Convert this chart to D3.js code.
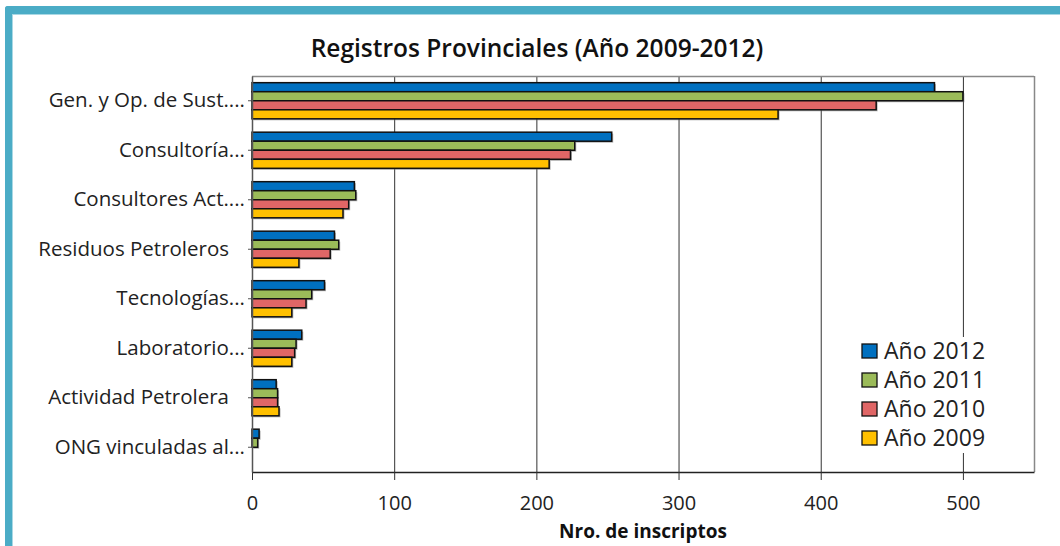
<!DOCTYPE html>
<html><head><meta charset="utf-8">
<script src="https://cdn.jsdelivr.net/npm/d3@7"></script>
<style>
html,body{margin:0;padding:0;background:#fff;}
text{font-family:"Open Sans","Noto Sans",sans-serif;}
.ylab{white-space:pre;}
</style></head>
<body><svg id="c" width="1060" height="546"></svg>
<script>
const categories = ["Gen. y Op. de Sust....","Consultoría...","Consultores Act....","Residuos Petroleros   ","Tecnologías...","Laboratorio...","Actividad Petrolera   ","ONG vinculadas al..."];
const seriesNames = ["Año 2012","Año 2011","Año 2010","Año 2009"];
const v2012 = [480,253,72,58,51,35,17,5];
const v2011 = [500,227,73,61,42,31,18,4];
const v2010 = [439,224,68,55,38,30,18,0];
const v2009 = [370,209,64,33,28,28,19,0];
const xTicks = [0,100,200,300,400,500];
const colors = ["#0070c0","#9bbb59","#e06666","#ffc000"];
const seriesValues = [v2012,v2011,v2010,v2009];

const svg = d3.select("#c");
// frame border
svg.append("rect").attr("x",5).attr("y",6).attr("width",1060).attr("height",8).attr("rx",3).attr("fill","#4bacc6");
svg.append("rect").attr("x",5).attr("y",6).attr("width",7).attr("height",546).attr("rx",3).attr("fill","#4bacc6");
svg.append("line").attr("x1",12).attr("x2",1060).attr("y1",14.5).attr("y2",14.5).attr("stroke","#a9d8e4").attr("stroke-width",1);
svg.append("line").attr("x1",12.5).attr("x2",12.5).attr("y1",15).attr("y2",546).attr("stroke","#a9d8e4").attr("stroke-width",1);

const L=252,R=1034,T=76,B=472;
const x = d3.scaleLinear().domain([0,550]).range([L,R]);
const y = d3.scaleBand().domain(categories).range([T,B]).paddingInner(0.27).paddingOuter(0.135);
const ys = d3.scaleBand().domain(seriesNames).range([0,y.bandwidth()]);

// title
svg.append("text").attr("x",537).attr("y",57).attr("text-anchor","middle")
  .attr("font-size",24.5).attr("font-weight",600).attr("fill","#111").text("Registros Provinciales (Año 2009-2012)");

// gridlines
svg.append("g").selectAll("line").data(xTicks.filter(d=>d>0)).join("line")
  .attr("x1",d=>x(d)+0.5).attr("x2",d=>x(d)+0.5).attr("y1",T).attr("y2",B)
  .attr("stroke","#333").attr("stroke-width",1);
// plot frame top/right
svg.append("line").attr("x1",L).attr("x2",R).attr("y1",T+0.5).attr("y2",T+0.5).attr("stroke","#888").attr("stroke-width",1.5);
svg.append("line").attr("x1",R+0.5).attr("x2",R+0.5).attr("y1",T).attr("y2",B).attr("stroke","#888").attr("stroke-width",1.5);

// bars
const gBars = svg.append("g");
seriesValues.forEach((vals,si)=>{
  const g = gBars.append("g");
  const data = categories.map((c,i)=>({c,v:vals[i]})).filter(d=>d.v>0);
  g.selectAll("rect.sh").data(data).join("rect").attr("class","sh")
    .attr("x",x(0)+1.5).attr("y",d=>y(d.c)+ys(seriesNames[si])+1.5)
    .attr("width",d=>x(d.v)-x(0)).attr("height",ys.bandwidth())
    .attr("fill","#777").attr("opacity",0.55);
  g.selectAll("rect.b").data(data).join("rect").attr("class","b")
    .attr("x",x(0)).attr("y",d=>y(d.c)+ys(seriesNames[si]))
    .attr("width",d=>x(d.v)-x(0)).attr("height",ys.bandwidth())
    .attr("fill",colors[si]).attr("stroke","#111").attr("stroke-width",1.5);
});

// x axis
const xa = svg.append("g").attr("transform",`translate(0,${B})`)
  .call(d3.axisBottom(x).tickValues(xTicks).tickSize(8).tickSizeOuter(0).tickPadding(16));
xa.select(".domain").attr("stroke","#222").attr("stroke-width",1.5);
xa.selectAll(".tick line").attr("stroke","#333");
xa.selectAll("text").attr("font-size",20).attr("fill","#222").style("font-family","'Open Sans',sans-serif");

// y axis
const ya = svg.append("g").attr("transform",`translate(${L},0)`)
  .call(d3.axisLeft(y).tickSize(4).tickSizeOuter(0).tickPadding(3));
ya.select(".domain").attr("stroke","#555").attr("stroke-width",1.5);
ya.selectAll(".tick line").attr("stroke","#555");
ya.selectAll("text").attr("class","ylab").attr("font-size",20.5).attr("fill","#222").style("font-family","'Open Sans',sans-serif");

// axis title
svg.append("text").attr("x",643).attr("y",538).attr("text-anchor","middle")
  .attr("font-size",19).attr("font-weight",700).attr("fill","#111").text("Nro. de inscriptos");

// legend
const lg = svg.append("g");
lg.append("rect").attr("x",850).attr("y",337).attr("width",150).attr("height",116).attr("fill","#fff");
seriesNames.forEach((n,i)=>{
  const yy = 351 + i*29;
  lg.append("rect").attr("x",862).attr("y",yy-7).attr("width",15).attr("height",14)
    .attr("fill",colors[i]).attr("stroke","#111").attr("stroke-width",1.3);
  lg.append("text").attr("x",884).attr("y",yy+8).attr("font-size",23).attr("fill","#222").text(n);
});
</script></body></html>
